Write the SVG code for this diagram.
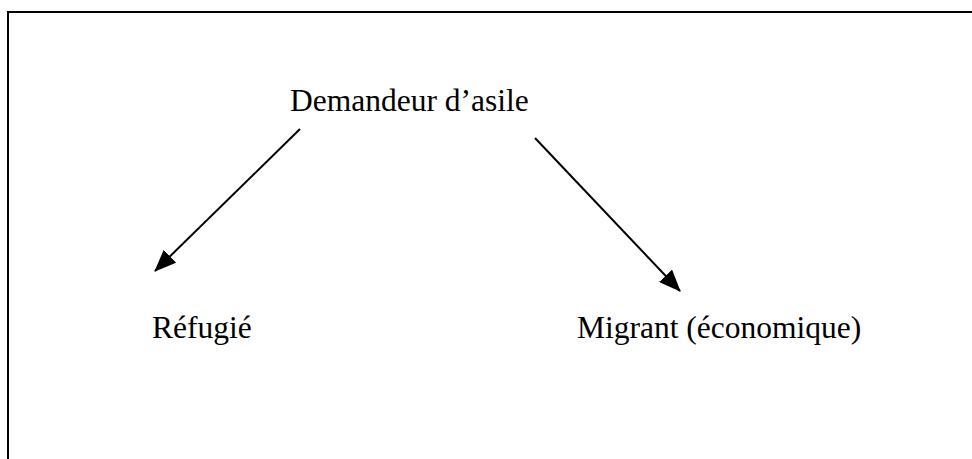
<svg xmlns="http://www.w3.org/2000/svg" width="972" height="459" viewBox="0 0 972 459">
<style>
.lbl{font-family:"Liberation Serif","Times New Roman",serif;font-size:31.5px;fill:#000}
.conn{stroke:#000;stroke-width:2;fill:none}
.frame{stroke:#000;stroke-width:2;fill:none}
</style>
<defs>
<marker id="ah" viewBox="0 0 22 18" refX="21" refY="9" markerWidth="22" markerHeight="18" markerUnits="userSpaceOnUse" orient="auto">
<path d="M0,0 L22,9 L0,18 z" fill="#000"/>
</marker>
</defs>
<rect width="972" height="459" fill="#fff"/>
<path class="frame" d="M8,459 V12 H972"/>
<g id="demandeur"><text class="lbl" x="290" y="111">Demandeur d’asile</text></g>
<g id="refugie"><text class="lbl" x="152" y="338">Réfugié</text></g>
<g id="migrant"><text class="lbl" x="577" y="338">Migrant (économique)</text></g>
<g id="connectors">
<line class="conn" x1="300" y1="129" x2="155" y2="271" marker-end="url(#ah)"/>
<line class="conn" x1="535" y1="138" x2="680" y2="291" marker-end="url(#ah)"/>
</g>
</svg>
